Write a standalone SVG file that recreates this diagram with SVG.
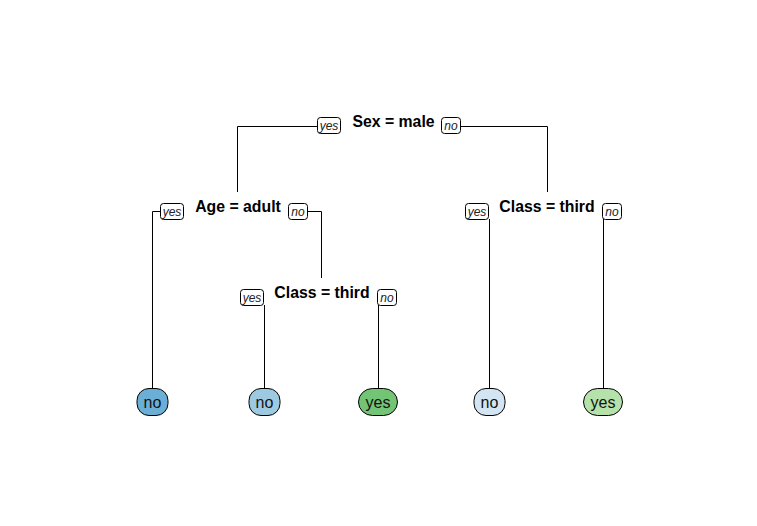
<svg xmlns="http://www.w3.org/2000/svg" width="757" height="526" viewBox="0 0 757 526">
<style>
.split{font-family:"Liberation Sans",Arial,sans-serif;font-weight:bold;font-size:15.8px;fill:#000;text-anchor:middle}
.yn{font-family:"Liberation Sans",Arial,sans-serif;font-style:italic;font-size:12px;fill:#222;text-anchor:middle}
.ynbox{fill:#fff;stroke:#000;stroke-width:1}
.leaf{stroke:#000;stroke-width:1}
.lt{font-family:"Liberation Sans",Arial,sans-serif;font-size:16px;fill:#111;text-anchor:middle}
.edge{fill:none;stroke:#000;stroke-width:1}
</style>
<rect width="757" height="526" fill="#fff"/>
<g id="connectors">
<path class="edge" d="M317.5,126.5 H237.5 V192"/>
<path class="edge" d="M460.5,126.5 H547.5 V192"/>
<path class="edge" d="M160.5,211.5 H152.5 V389"/>
<path class="edge" d="M307.5,211.5 H321.5 V278"/>
<path class="edge" d="M264.5,305 V389"/>
<path class="edge" d="M378.5,305 V389"/>
<path class="edge" d="M489.5,219 V389"/>
<path class="edge" d="M603.5,219 V389"/>
</g>
<g id="n1">
<text class="split" x="393.5" y="127">Sex = male</text>
<rect class="ynbox" x="317.5" y="117.5" width="23" height="16" rx="3"/>
<text class="yn" x="329" y="130">yes</text>
<rect class="ynbox" x="441.5" y="117.5" width="19" height="16" rx="3"/>
<text class="yn" x="451" y="130">no</text>
</g>
<g id="n2">
<text class="split" x="238" y="212">Age = adult</text>
<rect class="ynbox" x="160.5" y="203.5" width="23" height="16" rx="3"/>
<text class="yn" x="172" y="216">yes</text>
<rect class="ynbox" x="288.5" y="203.5" width="19" height="16" rx="3"/>
<text class="yn" x="298" y="216">no</text>
</g>
<g id="n3">
<text class="split" x="322" y="298">Class = third</text>
<rect class="ynbox" x="240.5" y="289.5" width="23" height="16" rx="3"/>
<text class="yn" x="252" y="302">yes</text>
<rect class="ynbox" x="377.5" y="289.5" width="19" height="16" rx="3"/>
<text class="yn" x="387" y="302">no</text>
</g>
<g id="n4">
<text class="split" x="547" y="212">Class = third</text>
<rect class="ynbox" x="465.5" y="203.5" width="23" height="16" rx="3"/>
<text class="yn" x="477" y="216">yes</text>
<rect class="ynbox" x="602.5" y="203.5" width="19" height="16" rx="3"/>
<text class="yn" x="612" y="216">no</text>
</g>
<g id="leaf1">
<rect class="leaf" x="137" y="388.5" width="31" height="27" rx="12" fill="#6BAED6"/>
<text class="lt" x="152.5" y="408">no</text>
</g>
<g id="leaf2">
<rect class="leaf" x="249" y="388.5" width="31" height="27" rx="12" fill="#9ECAE1"/>
<text class="lt" x="264.5" y="408">no</text>
</g>
<g id="leaf3">
<rect class="leaf" x="358.5" y="388.5" width="39" height="27" rx="14" fill="#74C476"/>
<text class="lt" x="378" y="408">yes</text>
</g>
<g id="leaf4">
<rect class="leaf" x="474" y="388.5" width="31" height="27" rx="12" fill="#D3E4F3"/>
<text class="lt" x="489.5" y="408">no</text>
</g>
<g id="leaf5">
<rect class="leaf" x="583.5" y="388.5" width="39" height="27" rx="14" fill="#B5E1AA"/>
<text class="lt" x="603" y="408">yes</text>
</g>
</svg>
